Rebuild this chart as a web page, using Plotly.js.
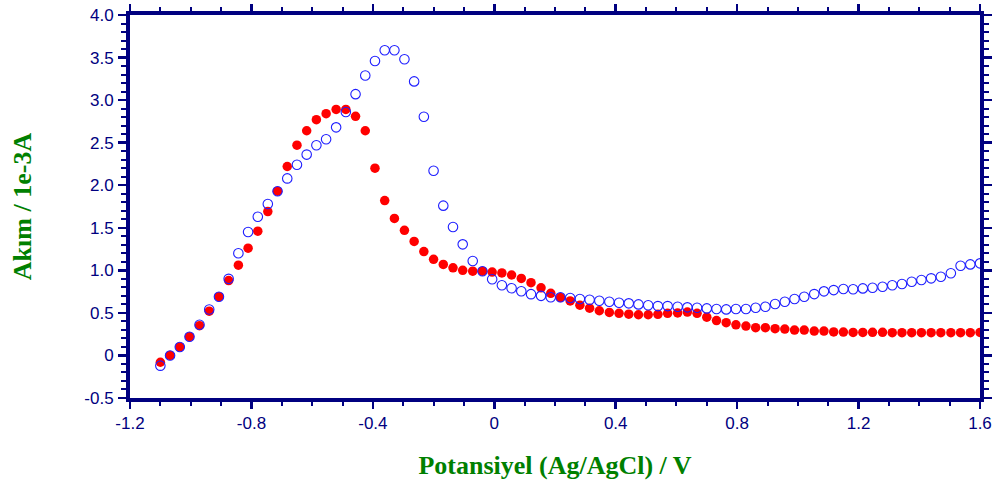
<!DOCTYPE html>
<html>
<head>
<meta charset="utf-8">
<script src="https://cdn.plot.ly/plotly-3.0.1.min.js"></script>
<style>html,body{margin:0;padding:0;background:#fff;}#chart{width:998px;height:483px;}</style>
</head>
<body>
<div id="chart"></div>
<script>
// Potential (V vs Ag/AgCl)
var potential = [-1.100,-1.068,-1.036,-1.004,-0.971,-0.939,-0.907,-0.875,-0.843,-0.811,
  -0.779,-0.746,-0.714,-0.682,-0.650,-0.618,-0.586,-0.554,-0.521,-0.489,
  -0.457,-0.425,-0.393,-0.361,-0.329,-0.296,-0.264,-0.232,-0.200,-0.168,
  -0.136,-0.104,-0.071,-0.039,-0.007,0.025,0.057,0.089,0.121,0.154,
  0.186,0.218,0.250,0.282,0.314,0.346,0.379,0.411,0.443,0.475,
  0.507,0.539,0.571,0.604,0.636,0.668,0.700,0.732,0.764,0.796,
  0.829,0.861,0.893,0.925,0.957,0.989,1.021,1.054,1.086,1.118,
  1.150,1.182,1.214,1.246,1.279,1.311,1.343,1.375,1.407,1.439,
  1.471,1.504,1.536,1.568,1.600];
// Filled red series (current, 1e-3 A)
var redCurrent = [-0.08,0.00,0.10,0.22,0.35,0.52,0.69,0.88,1.06,1.26,
  1.46,1.69,1.93,2.22,2.47,2.64,2.77,2.84,2.89,2.89,
  2.81,2.64,2.20,1.82,1.61,1.47,1.34,1.22,1.13,1.07,
  1.03,1.00,0.99,0.99,0.98,0.97,0.945,0.905,0.855,0.795,
  0.73,0.68,0.64,0.59,0.555,0.525,0.505,0.495,0.485,0.478,
  0.478,0.483,0.495,0.50,0.51,0.495,0.45,0.41,0.385,0.36,
  0.345,0.326,0.326,0.314,0.31,0.298,0.298,0.287,0.287,0.276,
  0.275,0.27,0.27,0.272,0.272,0.267,0.267,0.267,0.267,0.267,
  0.267,0.267,0.267,0.267,0.27];
// Open blue series (current, 1e-3 A)
var blueCurrent = [-0.12,0.00,0.10,0.22,0.36,0.54,0.69,0.90,1.20,1.45,
  1.63,1.78,1.93,2.08,2.24,2.36,2.47,2.54,2.68,2.86,
  3.07,3.29,3.46,3.585,3.585,3.48,3.22,2.805,2.17,1.76,
  1.51,1.305,1.11,0.99,0.895,0.825,0.79,0.755,0.72,0.70,
  0.683,0.683,0.675,0.663,0.655,0.643,0.631,0.62,0.612,0.60,
  0.589,0.58,0.58,0.572,0.565,0.56,0.553,0.545,0.541,0.545,
  0.545,0.56,0.572,0.604,0.631,0.663,0.69,0.721,0.753,0.768,
  0.78,0.777,0.788,0.796,0.807,0.824,0.839,0.866,0.886,0.906,
  0.925,0.965,1.054,1.07,1.082];
var xTickVals = [-1.2,-0.8,-0.4,0,0.4,0.8,1.2,1.6];
var xTickText = ["-1.2","-0.8","-0.4","0","0.4","0.8","1.2","1.6"];
var yTickVals = [-0.5,0,0.5,1.0,1.5,2.0,2.5,3.0,3.5,4.0];
var yTickText = ["-0.5","0","0.5","1.0","1.5","2.0","2.5","3.0","3.5","4.0"];
var xTitle = "Potansiyel (Ag/AgCl) / V";
var yTitle = "Akım / 1e-3A";

var navy = "#000080";
var green = "#008000";
var tickFont = {family: "Liberation Sans, Arial, sans-serif", size: 17, color: navy};
var titleFont = {family: "Liberation Serif, Times New Roman, serif", size: 26, color: green, weight: 700};

var traces = [
  {x: potential, y: redCurrent, type: "scatter", mode: "markers",
   marker: {symbol: "circle", size: 9.5, color: "#ff0000", line: {width: 0}}, hoverinfo: "x+y"},
  {x: potential, y: blueCurrent, type: "scatter", mode: "markers",
   marker: {symbol: "circle-open", size: 9.5, color: "#1e1eff", line: {width: 1.1, color: "#1e1eff"}}, hoverinfo: "x+y"}
];

var layout = {
  width: 998, height: 483,
  margin: {l: 130, r: 18, t: 15, b: 85},
  paper_bgcolor: "#ffffff", plot_bgcolor: "#ffffff",
  showlegend: false,
  xaxis: {
    range: [-1.2, 1.6], tickmode: "array", tickvals: xTickVals, ticktext: xTickText,
    showgrid: false, zeroline: false, showline: true, linecolor: navy, linewidth: 4,
    mirror: "allticks", ticks: "outside", ticklen: 7, tickwidth: 2.5, tickcolor: navy,
    tickfont: tickFont,
    minor: {tickmode: "linear", tick0: -1.2, dtick: 0.1, ticks: "outside", ticklen: 4, tickwidth: 2, tickcolor: navy, showgrid: false},
    title: {text: xTitle, font: titleFont, standoff: 24}
  },
  yaxis: {
    range: [-0.5, 4.0], tickmode: "array", tickvals: yTickVals, ticktext: yTickText,
    showgrid: false, zeroline: false, showline: true, linecolor: navy, linewidth: 4,
    mirror: "allticks", ticks: "outside", ticklen: 8, tickwidth: 2.5, tickcolor: navy,
    tickfont: tickFont, ticklabelstandoff: 1,
    minor: {tickmode: "linear", tick0: -0.5, dtick: 0.1, ticks: "outside", ticklen: 5, tickwidth: 2, tickcolor: navy, showgrid: false},
    title: {text: yTitle, font: titleFont, standoff: 46}
  }
};

Plotly.newPlot("chart", traces, layout, {displayModeBar: false, staticPlot: true});
</script>
</body>
</html>
